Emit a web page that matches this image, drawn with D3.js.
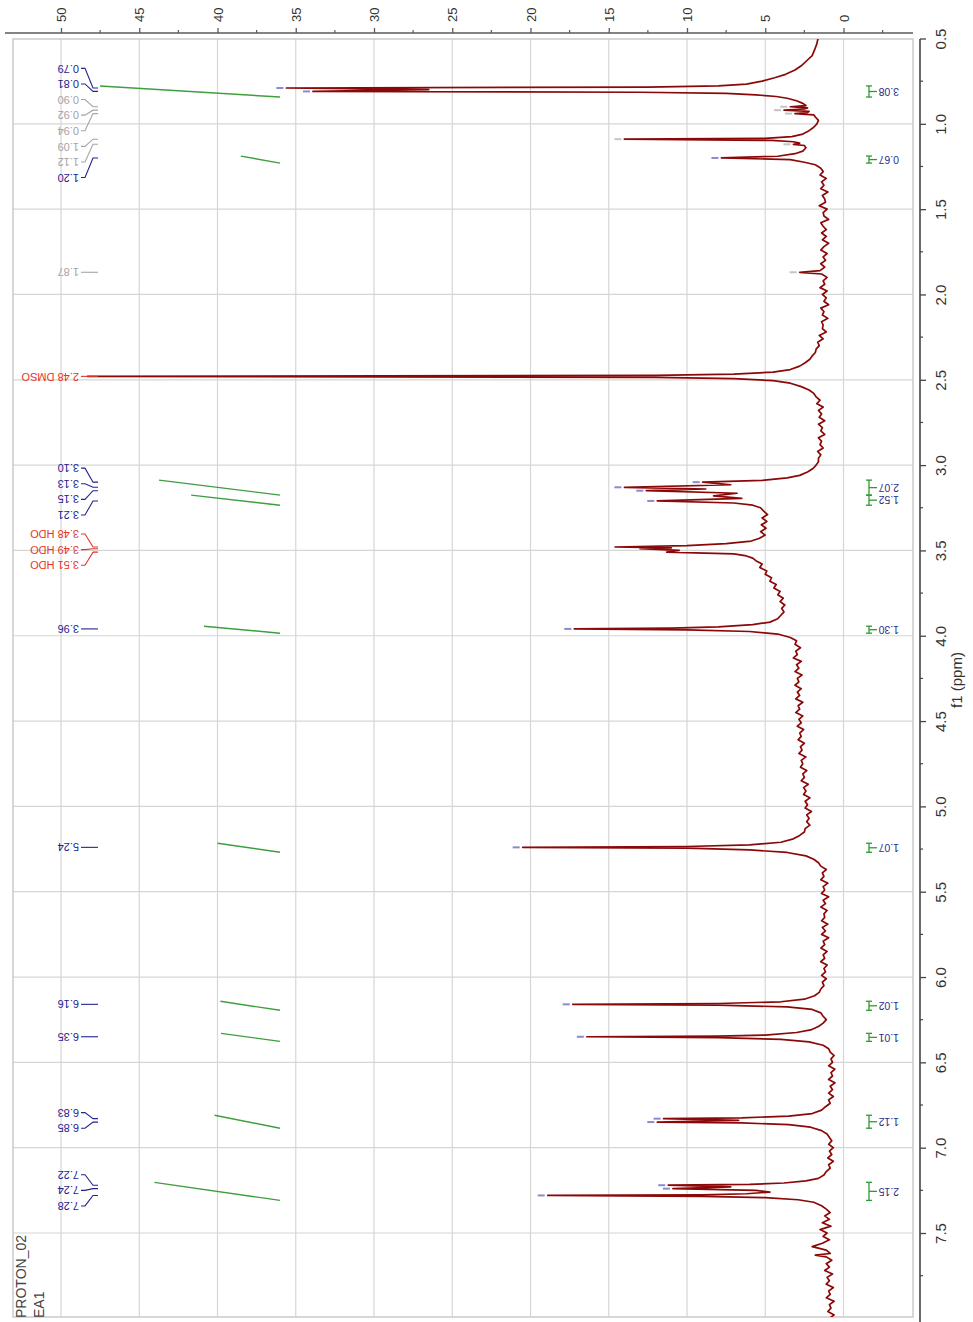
<!DOCTYPE html>
<html>
<head>
<meta charset="utf-8">
<script src="https://cdn.jsdelivr.net/npm/d3@7"></script>
<style>
  body { margin: 0; background: #fff; }
  svg { display: block; }
  text { font-family: Arial, "Liberation Sans", sans-serif; }
</style>
</head>
<body>
<svg id="chart" width="973" height="1322"></svg>
<script>
// ---- Axis ticks ----
const intensityTicks = [0, 5, 10, 15, 20, 25, 30, 35, 40, 45, 50];
const ppmTicks = [0.5, 1.0, 1.5, 2.0, 2.5, 3.0, 3.5, 4.0, 4.5, 5.0, 5.5, 6.0, 6.5, 7.0, 7.5];

// ---- Picked peaks: chemical shift (ppm), height, label, label style ----
const peakPpm    = [0.79, 0.81, 0.90, 0.92, 0.94, 1.09, 1.12, 1.20, 1.87, 2.48,
                    3.10, 3.13, 3.15, 3.21, 3.48, 3.49, 3.51, 3.96, 5.24, 6.16,
                    6.35, 6.83, 6.85, 7.22, 7.24, 7.28];
const peakHeight = [35.6, 33.9, 3.4, 3.8, 3.1, 14.0, 3.2, 7.8, 2.8, 48.3,
                    9.0, 14.0, 12.6, 11.9, 14.6, 13.0, 11.3, 17.2, 20.5, 17.3,
                    16.4, 11.5, 11.9, 11.2, 10.9, 18.9];
const peakLabel  = ["0.79", "0.81", "0.90", "0.92", "0.94", "1.09", "1.12", "1.20", "1.87", "2.48 DMSO",
                    "3.10", "3.13", "3.15", "3.21", "3.48 HDO", "3.49 HDO", "3.51 HDO", "3.96", "5.24", "6.16",
                    "6.35", "6.83", "6.85", "7.22", "7.24", "7.28"];
const peakKind   = ["main", "main", "minor", "minor", "minor", "minor", "minor", "main", "minor", "solvent",
                    "main", "main", "main", "main", "solvent", "solvent", "solvent", "main", "main", "main",
                    "main", "main", "main", "main", "main", "main"];

// ---- Spectrum trace between the peak tips: [ppm, intensity] ----
const baseline = [
  [0.50,1.63],[0.53,1.70],[0.567,1.85],[0.60,2.0],[0.626,2.3],[0.66,2.7],[0.685,3.1],[0.71,3.7],
  [0.73,4.4],[0.75,5.2],[0.767,6.2],[0.778,8.0],[0.785,12.5],[0.80,26.5],[0.815,13],[0.822,7.5],
  [0.83,5.6],[0.84,4.3],[0.85,3.6],[0.865,3.0],[0.88,2.6],[0.893,2.4],[0.907,2.3],[0.913,2.5],
  [0.927,2.2],[0.934,2.3],[0.947,1.9],[0.96,1.8],[0.98,1.6],[1.00,1.7],[1.02,1.9],[1.04,2.2],
  [1.06,2.6],[1.075,3.3],[1.085,5.0],[1.097,4.6],[1.105,3.2],[1.113,2.8],[1.127,2.5],[1.14,2.4],
  [1.16,2.6],[1.175,3.1],[1.19,4.2],[1.21,3.4],[1.225,2.5],[1.24,1.8],[1.26,1.45],
  [1.28,1.30],[1.30,1.50],[1.32,1.10],[1.34,1.40],[1.36,1.25],[1.38,1.45],[1.40,1.00],[1.42,1.35],
  [1.44,1.20],[1.46,1.15],[1.48,1.55],[1.50,1.05],[1.52,1.30],[1.54,1.25],[1.56,0.95],[1.58,1.45],
  [1.60,1.30],[1.62,1.10],[1.64,1.40],[1.66,1.10],[1.68,1.35],[1.70,0.95],[1.72,1.25],[1.74,1.45],
  [1.76,1.05],[1.78,1.30],[1.80,1.15],[1.82,1.45],[1.84,1.20],[1.86,1.5],[1.88,1.4],[1.90,1.05],
  [1.92,1.30],[1.94,1.20],[1.96,1.50],[1.98,1.05],[2.00,1.35],[2.02,1.10],[2.04,1.25],[2.06,0.95],
  [2.08,1.45],[2.10,1.25],[2.12,1.35],[2.14,1.00],[2.16,1.40],[2.18,1.30],[2.20,1.35],[2.22,1.10],
  [2.24,1.55],[2.26,1.30],[2.28,1.65],[2.30,1.55],[2.32,1.75],[2.34,1.80],[2.36,2.00],[2.38,2.15],
  [2.40,2.45],[2.42,2.8],[2.44,3.4],[2.455,4.5],[2.467,7.0],[2.474,12],[2.486,12],[2.493,7.0],
  [2.505,4.5],[2.52,3.4],[2.54,2.7],[2.56,2.2],[2.58,1.9],[2.60,1.75],
  [2.62,1.50],[2.64,1.70],[2.66,1.30],[2.68,1.60],[2.70,1.40],[2.72,1.55],[2.74,1.20],[2.76,1.60],
  [2.78,1.35],[2.80,1.45],[2.82,1.20],[2.84,1.60],[2.86,1.40],[2.88,1.50],[2.90,1.30],[2.92,1.65],
  [2.94,1.45],[2.96,1.60],[2.98,1.60],[3.00,1.75],[3.02,1.95],[3.04,2.3],[3.06,2.8],[3.075,3.6],
  [3.09,5.2],[3.115,7.2],[3.14,8.8],[3.165,6.8],[3.18,8.3],[3.195,6.5],[3.222,7.0],[3.235,5.8],
  [3.25,5.3],[3.27,5.1],[3.29,4.85],[3.31,5.2],[3.33,4.9],[3.35,5.25],[3.37,4.95],[3.39,5.3],
  [3.41,5.0],[3.43,5.4],[3.445,5.9],[3.46,7.5],[3.472,10],[3.485,11.0],[3.50,10.5],[3.52,7.0],
  [3.53,6.3],[3.545,5.8],[3.56,5.6],[3.58,5.2],[3.60,5.35],[3.62,4.9],[3.64,5.0],[3.66,4.6],
  [3.68,4.7],[3.70,4.3],[3.72,4.45],[3.74,4.05],[3.76,4.2],[3.78,3.85],[3.80,4.05],[3.82,3.75],
  [3.84,3.95],[3.86,3.8],[3.88,4.0],[3.90,4.2],[3.92,4.7],[3.935,5.8],[3.948,8.0],[3.955,11],
  [3.966,10],[3.975,6.0],[3.99,4.2],[4.01,3.4],[4.03,3.0],
  [4.05,3.1],[4.07,2.75],[4.09,3.05],[4.11,2.95],[4.13,3.2],[4.15,2.7],[4.17,3.0],[4.19,2.85],
  [4.21,3.1],[4.23,2.65],[4.25,2.95],[4.27,2.85],[4.29,3.1],[4.31,2.7],[4.33,2.95],[4.35,2.8],
  [4.37,3.05],[4.39,2.6],[4.41,2.9],[4.43,2.8],[4.45,3.05],[4.47,2.6],[4.49,2.85],[4.51,2.7],
  [4.53,2.95],[4.55,2.55],[4.57,2.8],[4.59,2.7],[4.61,2.9],[4.63,2.5],[4.65,2.75],[4.67,2.65],
  [4.69,2.85],[4.71,2.4],[4.73,2.7],[4.75,2.6],[4.77,2.75],[4.79,2.35],[4.81,2.6],[4.83,2.5],
  [4.85,2.7],[4.87,2.25],[4.89,2.55],[4.91,2.4],[4.93,2.55],[4.95,2.15],[4.97,2.45],[4.99,2.3],
  [5.01,2.45],[5.03,2.05],[5.05,2.35],[5.07,2.2],[5.09,2.35],[5.11,2.15],[5.13,2.45],[5.15,2.5],
  [5.17,2.8],[5.19,3.2],[5.21,4.0],[5.225,6.0],[5.235,10],[5.245,10],[5.255,6.0],[5.27,3.6],
  [5.29,2.4],[5.31,1.9],[5.33,1.6],
  [5.35,1.45],[5.37,1.10],[5.39,1.35],[5.41,1.25],[5.43,1.45],[5.45,1.00],[5.47,1.30],[5.49,1.20],
  [5.51,1.40],[5.53,0.95],[5.55,1.30],[5.57,1.15],[5.59,1.45],[5.61,1.05],[5.63,1.25],[5.65,1.20],
  [5.67,1.40],[5.69,1.00],[5.71,1.35],[5.73,1.15],[5.75,1.40],[5.77,0.95],[5.79,1.30],[5.81,1.20],
  [5.83,1.45],[5.85,1.05],[5.87,1.30],[5.89,1.20],[5.91,1.45],[5.93,1.05],[5.95,1.25],[5.97,1.15],
  [5.99,1.40],[6.01,1.10],[6.03,1.35],[6.05,1.25],[6.07,1.45],[6.09,1.55],[6.11,1.85],[6.13,2.5],
  [6.145,4.0],[6.155,8],[6.165,8],[6.175,3.6],[6.19,2.0],[6.21,1.45],[6.23,1.3],[6.25,1.1],
  [6.27,1.3],[6.29,1.6],[6.31,2.1],[6.325,3.0],[6.34,5.0],[6.346,8],[6.355,8],[6.365,4.0],
  [6.38,2.2],[6.40,1.3],[6.42,0.95],
  [6.44,0.85],[6.46,0.6],[6.48,0.8],[6.50,0.7],[6.52,0.95],[6.54,0.55],[6.56,0.8],[6.58,0.7],
  [6.60,0.95],[6.62,0.55],[6.64,0.85],[6.66,0.7],[6.68,0.95],[6.70,0.65],[6.72,0.95],[6.74,0.85],
  [6.76,1.15],[6.78,1.4],[6.80,2.0],[6.815,3.5],[6.825,6.5],[6.84,6.7],[6.855,6.5],[6.865,3.5],
  [6.88,2.1],[6.90,1.4],[6.92,1.05],[6.94,0.9],
  [6.96,0.75],[6.98,0.95],[7.00,0.65],[7.02,0.9],[7.04,0.75],[7.06,1.0],[7.08,0.65],[7.10,0.95],
  [7.12,0.85],[7.14,1.1],[7.16,1.25],[7.18,1.6],[7.195,2.4],[7.207,3.8],[7.215,6.0],[7.23,7.2],
  [7.25,5.6],[7.26,4.7],[7.27,6.2],[7.276,9],[7.285,9],[7.293,5.0],[7.305,2.9],[7.32,1.9],
  [7.34,1.4],[7.36,1.1],
  [7.38,0.85],[7.40,1.2],[7.42,0.9],[7.44,1.35],[7.46,0.8],[7.48,1.5],[7.50,1.05],[7.52,1.3],
  [7.54,0.9],[7.56,1.35],[7.58,2.0],[7.60,1.1],[7.62,0.85],[7.63,1.8],[7.64,1.1],[7.66,0.75],
  [7.68,1.1],[7.70,0.9],[7.72,1.2],[7.74,0.7],[7.76,1.05],[7.78,0.9],[7.80,1.1],[7.82,0.65],
  [7.84,0.95],[7.86,0.85],[7.88,1.1],[7.90,0.6],[7.92,0.9],[7.94,0.8],[7.96,1.0],[7.98,0.6],
  [8.00,0.9],[8.02,0.75]
];

// ---- Integrals: ppm range and normalised area ----
const integralFrom  = [0.778, 1.189, 3.088, 3.176, 3.944, 5.216, 6.142, 6.330, 6.810, 7.203];
const integralTo    = [0.843, 1.230, 3.176, 3.235, 3.985, 5.269, 6.195, 6.377, 6.886, 7.309];
const integralValue = [3.08, 0.67, 2.07, 1.52, 1.30, 1.07, 1.02, 1.01, 1.12, 2.15];

const titleLines = ["PROTON_02", "EA1"];

// ---- Layout ----
const svg = d3.select("#chart");
const frame = { l: 13, t: 39, r: 913, b: 1317 };

// Intensity runs right-to-left across the page, chemical shift runs top-to-bottom.
const x = d3.scaleLinear().domain([0, 50]).range([843.5, 61]);
const y = d3.scaleLinear().domain([0.5, 7.5]).range([38.5, 1233]);
const xi = d3.scaleLinear().domain([0, 3.08]).range([280, 100]);

const colors = { main: "#23238f", minor: "#a4a4a4", solvent: "#e6342c" };
const dashColors = { main: "#8a8ad0", minor: "#c4c4c4", solvent: "#f0a0a0" };

// Grid
const grid = svg.append("g").attr("stroke", "#d6d6d6").attr("stroke-width", 1.2);
grid.selectAll("line.gv").data(intensityTicks).join("line").attr("class", "gv")
  .attr("x1", d => x(d)).attr("x2", d => x(d)).attr("y1", frame.t).attr("y2", frame.b);
grid.selectAll("line.gh").data(ppmTicks.filter(d => d > 0.5)).join("line").attr("class", "gh")
  .attr("y1", d => y(d)).attr("y2", d => y(d)).attr("x1", frame.l).attr("x2", frame.r);
svg.append("rect").attr("x", frame.l).attr("y", frame.t)
  .attr("width", frame.r - frame.l).attr("height", frame.b - frame.t)
  .attr("fill", "none").attr("stroke", "#cacaca").attr("stroke-width", 1.5);

// Clip region for the spectrum
svg.append("clipPath").attr("id", "plotClip").append("rect")
  .attr("x", frame.l).attr("y", frame.t).attr("width", frame.r - frame.l).attr("height", frame.b - frame.t);

// Integral curves
const integrals = integralValue.map((v, i) => ({ from: integralFrom[i], to: integralTo[i], value: v }));
svg.append("g").selectAll("path").data(integrals).join("path")
  .attr("d", d => d3.line()([[xi(0), y(d.to)], [xi(d.value), y(d.from)]]))
  .attr("fill", "none").attr("stroke", "#3f9e3f").attr("stroke-width", 1.4);

// Spectrum trace
const tips = peakPpm.map((p, i) => [p, peakHeight[i]]);
const trace = baseline.concat(tips).sort((a, b) => a[0] - b[0]);
svg.append("path").datum(trace)
  .attr("clip-path", "url(#plotClip)")
  .attr("d", d3.line().x(d => x(d[1])).y(d => y(d[0])))
  .attr("fill", "none").attr("stroke", "#8a0808").attr("stroke-width", 1.7)
  .attr("stroke-linejoin", "round");

// Peak markers
const peaks = peakPpm.map((p, i) => ({ ppm: p, h: peakHeight[i], label: peakLabel[i], kind: peakKind[i] }));
svg.append("g").selectAll("line").data(peaks.filter(d => d.kind !== "solvent")).join("line")
  .attr("x1", d => x(d.h) - 10).attr("x2", d => x(d.h) - 3)
  .attr("y1", d => y(d.ppm)).attr("y2", d => y(d.ppm))
  .attr("stroke", d => dashColors[d.kind]).attr("stroke-width", 2);

// Spread labels so that neighbours keep a fixed spacing
function spreadLabels(targets, gap) {
  const clusters = [];
  targets.forEach(t => {
    clusters.push({ lo: t, hi: t, n: 1 });
    while (clusters.length > 1) {
      const b = clusters[clusters.length - 1], a = clusters[clusters.length - 2];
      const aEnd = (a.lo + a.hi) / 2 + (a.n - 1) / 2 * gap;
      const bStart = (b.lo + b.hi) / 2 - (b.n - 1) / 2 * gap;
      if (bStart - aEnd < gap) { a.hi = b.hi; a.n += b.n; clusters.pop(); } else break;
    }
  });
  const out = [];
  clusters.forEach(c => {
    const m = (c.lo + c.hi) / 2;
    for (let k = 0; k < c.n; k++) out.push(m + (k - (c.n - 1) / 2) * gap);
  });
  return out;
}
const labelY = spreadLabels(peaks.map(d => y(d.ppm)), 15.6);
peaks.forEach((d, i) => { d.ly = labelY[i]; d.py = y(d.ppm); });

const lab = svg.append("g");
lab.selectAll("path").data(peaks).join("path")
  .attr("d", d => `M81,${d.ly}H85L93,${d.py}H98`)
  .attr("fill", "none").attr("stroke", d => colors[d.kind]).attr("stroke-width", 1.1);
lab.selectAll("text").data(peaks).join("text")
  .attr("transform", d => `translate(79,${d.ly}) rotate(180)`)
  .attr("text-anchor", "start").attr("dy", "0.35em")
  .attr("font-size", 11).attr("fill", d => colors[d.kind])
  .text(d => d.label);

// Integral brackets and values
const ig = svg.append("g");
integrals.forEach(d => {
  const y0 = y(d.from), y1 = y(d.to), ym = (y0 + y1) / 2;
  const g = ig.append("g").attr("stroke", "#2f9a2f").attr("stroke-width", 1.3);
  g.append("line").attr("x1", 869).attr("x2", 869).attr("y1", y0).attr("y2", y1);
  g.append("line").attr("x1", 866).attr("x2", 872).attr("y1", y0).attr("y2", y0);
  g.append("line").attr("x1", 866).attr("x2", 872).attr("y1", y1).attr("y2", y1);
  g.append("line").attr("x1", 869).attr("x2", 877).attr("y1", ym).attr("y2", ym);
  ig.append("text").attr("transform", `translate(899,${ym}) rotate(180)`)
    .attr("text-anchor", "start").attr("dy", "0.35em")
    .attr("font-size", 10.5).attr("fill", "#2d2d85")
    .text(d3.format(".2f")(d.value));
});

// Intensity axis (top)
const topAxis = svg.append("g").attr("transform", "translate(0,33)")
  .call(d3.axisTop(x).tickValues(intensityTicks).tickSize(5).tickSizeOuter(0).tickFormat(d3.format("d")));
topAxis.select(".domain").remove();
topAxis.append("line").attr("x1", 5).attr("x2", frame.r).attr("stroke", "#5a5a5a").attr("stroke-width", 1.6);
topAxis.selectAll(".tick line").attr("stroke", "#5a5a5a").attr("stroke-width", 1.3);
topAxis.selectAll(".tick text")
  .attr("transform", "rotate(-90)").attr("x", 11).attr("y", 0).attr("dy", "0.35em")
  .attr("text-anchor", "start").attr("font-size", 13)
  .attr("font-family", "Arial, 'Liberation Sans', sans-serif").attr("fill", "#333");
const minorI = intensityTicks.slice(0, -1).map(d => d + 2.5).concat([-2.5]);
topAxis.selectAll("line.minor").data(minorI).join("line").attr("class", "minor")
  .attr("x1", d => x(d)).attr("x2", d => x(d)).attr("y1", 0).attr("y2", -3)
  .attr("stroke", "#5a5a5a").attr("stroke-width", 1.2);

// Chemical shift axis (right)
const rightAxis = svg.append("g").attr("transform", "translate(920,0)")
  .call(d3.axisRight(y).tickValues(ppmTicks).tickSize(6).tickSizeOuter(0).tickFormat(d3.format(".1f")));
rightAxis.select(".domain").remove();
rightAxis.append("line").attr("y1", frame.t).attr("y2", 1322).attr("stroke", "#444").attr("stroke-width", 1.6);
rightAxis.selectAll(".tick line").attr("stroke", "#444").attr("stroke-width", 1.3);
rightAxis.selectAll(".tick text")
  .attr("x", 0).attr("dy", "0.35em").attr("transform", "translate(21,0) rotate(-90)")
  .attr("text-anchor", "middle").attr("font-size", 15)
  .attr("font-family", "Arial, 'Liberation Sans', sans-serif").attr("fill", "#333");
const minorP = ppmTicks.map(d => d + 0.25);
rightAxis.selectAll("line.minor").data(minorP).join("line").attr("class", "minor")
  .attr("y1", d => y(d)).attr("y2", d => y(d)).attr("x1", 0).attr("x2", 3)
  .attr("stroke", "#444").attr("stroke-width", 1.2);

svg.append("text").attr("transform", "translate(957,680) rotate(-90)")
  .attr("text-anchor", "middle").attr("dy", "0.35em").attr("font-size", 15).attr("fill", "#333")
  .text("f1 (ppm)");

// Experiment title
svg.append("g").selectAll("text").data(titleLines).join("text")
  .attr("transform", (d, i) => `translate(${26 + i * 18},1318) rotate(-90)`)
  .attr("text-anchor", "start").attr("font-size", 14).attr("fill", "#444")
  .text(d => d);
</script>
</body>
</html>
